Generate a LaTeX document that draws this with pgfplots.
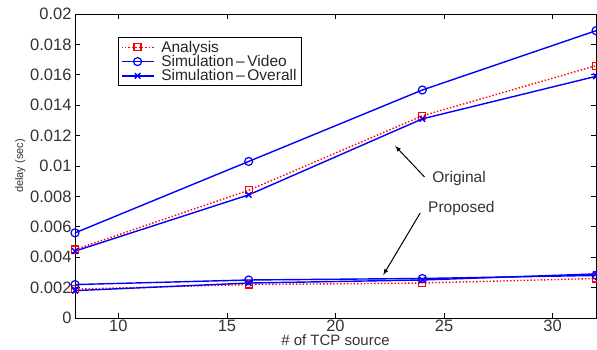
\documentclass[border=0pt]{standalone}
\usepackage{pgfplots}
\pgfplotsset{compat=1.18}
\usepackage{fontspec}
\setmainfont{Liberation Sans}
\begin{document}
\begin{tikzpicture}[x=1pt,y=1pt]
\begin{axis}[
  name=ax,
  scale only axis,
  width=521pt, height=304pt,
  xmin=8, xmax=32, ymin=0, ymax=0.02,
  xtick={10,15,20,25,30},
  ytick={0,0.002,0.004,0.006,0.008,0.01,0.012,0.014,0.016,0.018,0.02},
  scaled y ticks=false,
  yticklabel style={/pgf/number format/fixed,/pgf/number format/precision=3},
  /pgf/number format/assume math mode=true,
  tick align=inside,
  tick style={black, line width=0.8pt},
  major tick length=5pt,
  axis line style={black, line width=0.8pt},
  ticklabel style={font=\fontsize{16.5}{18}\selectfont, text=black!80},
  xticklabel style={inner ysep=2pt},
  xlabel={\# of TCP source},
  ylabel={delay (sec)},
  xlabel style={font=\fontsize{15}{16}\selectfont, text=black!80, inner sep=0.5pt, yshift=0pt},
  ylabel style={font=\fontsize{11}{13}\selectfont, text=black!80, yshift=-2pt},
  legend style={at={(0.0825,0.924)}, anchor=north west, draw=black, line width=0.8pt,
    font=\fontsize{15.5}{16}\selectfont, text=black!85, inner xsep=2.5pt, inner ysep=1.5pt,
    row sep=-2.5pt, column sep=5pt,
    cells={anchor=west}},
  legend cell align=left,
  legend image code/.code={\draw[mark repeat=2, mark phase=2] plot coordinates {(0pt,0pt) (16pt,0pt) (32pt,0pt)};},
]
\addplot[red, dotted, line width=1.4pt, mark=square, mark size=3.5pt, mark options={solid, line width=1.2pt}]
  coordinates {(8,0.0045) (16,0.0084) (24,0.0133) (32,0.0166)};
\addlegendentry{Analysis}
\addplot[blue, line width=1.4pt, mark=o, mark size=4pt, mark options={solid, line width=1.2pt}]
  coordinates {(8,0.0056) (16,0.0103) (24,0.0150) (32,0.0189)};
\addlegendentry{Simulation\,\textendash\,Video}
\addplot[blue, line width=1.4pt, mark=x, mark size=4pt, mark options={solid, line width=1.4pt}]
  coordinates {(8,0.0044) (16,0.0081) (24,0.0131) (32,0.0159)};
\addlegendentry{Simulation\,\textendash\,Overall}
\addplot[red, dotted, line width=1.4pt, mark=square, mark size=3.5pt, mark options={solid, line width=1.2pt}, forget plot]
  coordinates {(8,0.0019) (16,0.0022) (24,0.0023) (32,0.0026)};
\addplot[blue, line width=1.4pt, mark=o, mark size=4pt, mark options={solid, line width=1.2pt}, forget plot]
  coordinates {(8,0.0022) (16,0.0025) (24,0.0026) (32,0.0028)};
\addplot[blue, line width=1.4pt, mark=x, mark size=4pt, mark options={solid, line width=1.4pt}, forget plot]
  coordinates {(8,0.0018) (16,0.0023) (24,0.0025) (32,0.0029)};
\draw[-latex, line width=1pt] (axis cs:24.1,0.00928) -- (axis cs:22.75,0.01132);
\node[anchor=west, font=\fontsize{15.5}{17}\selectfont, text=black!80] at (axis cs:24.3,0.0092) {Original};
\node[anchor=center, font=\fontsize{15.5}{17}\selectfont, text=black!80] at (axis cs:25.8,0.0072) {Proposed};
\draw[-latex, line width=1pt] (axis cs:23.9,0.0069) -- (axis cs:22.2,0.00283);
\end{axis}
\pgfresetboundingbox
\path[use as bounding box] ([shift={(-75pt,-32pt)}]ax.south west) rectangle ([shift={(1pt,14pt)}]ax.north east);
\end{tikzpicture}
\end{document}
